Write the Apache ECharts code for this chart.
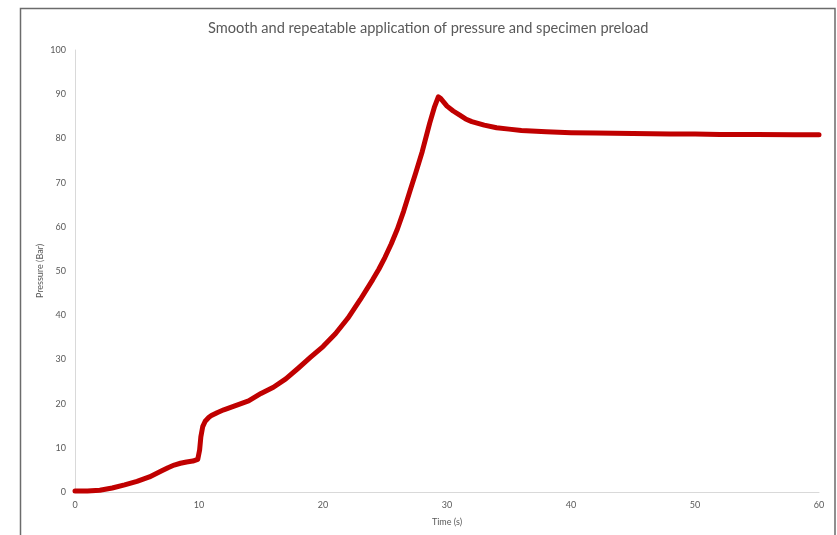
<!DOCTYPE html>
<html>
<head>
<meta charset="utf-8">
<script src="https://cdn.jsdelivr.net/npm/echarts@6/dist/echarts.min.js"></script>
<style>
html,body{margin:0;padding:0;background:#fff;}
#chart{width:837px;height:535px;}
</style>
</head>
<body>
<div id="chart"></div>
<script>
const times = [0,1,2,3,4,5,6,7,7.5,8,8.5,9,9.5,9.9,10.05,10.15,10.3,10.5,10.8,11,11.5,12,13,14,15,16,17,18,19,20,21,22,23,24,24.5,25,25.5,26,26.5,27,27.5,28,28.6,29,29.3,29.5,30,30.5,31,31.5,32,33,34,35,36,38,40,42,45,48,50,52,55,58,60];
const pressure = [0.2,0.2,0.4,0.9,1.6,2.4,3.4,4.8,5.5,6.1,6.5,6.8,7.0,7.4,9.5,12.5,14.8,16.0,16.9,17.3,18.0,18.6,19.6,20.6,22.3,23.7,25.6,28.0,30.5,32.9,35.8,39.3,43.5,48.0,50.4,53.1,56.1,59.5,63.5,68.0,72.4,77.0,83.4,87.2,89.4,89.0,87.3,86.2,85.3,84.4,83.8,83.0,82.4,82.1,81.8,81.5,81.3,81.2,81.1,81.0,81.0,80.9,80.9,80.8,80.8];
const titleText = 'Smooth and repeatable application of pressure and specimen preload';
const xName = 'Time (s)';
const yName = 'Pressure (Bar)';

const chart = echarts.init(document.getElementById('chart'));
const font = 'Lato';
chart.setOption({
  animation: false,
  title: {
    text: titleText,
    left: 203,
    top: 16,
    textStyle: {fontFamily: font, fontSize: 14.6, fontWeight: 'normal', color: '#595959'}
  },
  graphic: [{
    type: 'rect',
    shape: {x: 20.5, y: 8.5, width: 814.5, height: 560},
    style: {fill: 'none', stroke: '#6b6b6b', lineWidth: 1.5},
    silent: true
  }],
  grid: {left: 75, right: 18, top: 50, bottom: 43, containLabel: false},
  xAxis: {
    type: 'value', min: 0, max: 60, interval: 10,
    name: xName, nameLocation: 'middle', nameGap: 26,
    nameTextStyle: {fontFamily: font, fontSize: 9, color: '#595959'},
    axisLine: {show: true, lineStyle: {color: '#d9d9d9', width: 1}},
    axisTick: {show: false},
    splitLine: {show: false},
    axisLabel: {fontFamily: font, fontSize: 9, color: '#595959', margin: 9}
  },
  yAxis: {
    type: 'value', min: 0, max: 100, interval: 10,
    name: yName, nameLocation: 'middle', nameGap: 30, nameMoveOverlap: false,
    nameTextStyle: {fontFamily: font, fontSize: 9, color: '#595959'},
    axisLine: {show: true, lineStyle: {color: '#d9d9d9', width: 1}},
    axisTick: {show: false},
    splitLine: {show: false},
    axisLabel: {fontFamily: font, fontSize: 9, color: '#595959', margin: 9}
  },
  series: [{
    type: 'line',
    data: times.map((t, i) => [t, pressure[i]]),
    showSymbol: false,
    lineStyle: {color: '#c00000', width: 5, join: 'round', cap: 'round'},
    itemStyle: {color: '#c00000'}
  }]
});
</script>
</body>
</html>
